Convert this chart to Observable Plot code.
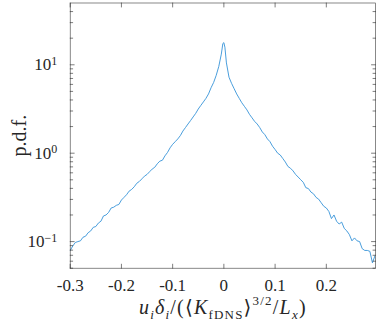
<!DOCTYPE html>
<html><head><meta charset="utf-8">
<script src="https://cdn.jsdelivr.net/npm/d3@7"></script>
<script src="https://cdn.jsdelivr.net/npm/@observablehq/plot@0.6"></script>
<style>
html,body{margin:0;padding:0;background:#fff;}
#chart svg, #chart svg text, #chart svg tspan {font-family: "Liberation Serif", "DejaVu Serif", serif !important;}
</style>
</head><body><div id="chart"></div>
<script>
const xValues = [
 -0.300,-0.295,-0.290,-0.285,-0.280,-0.275,-0.270,-0.265,-0.260,-0.255,
 -0.250,-0.245,-0.240,-0.235,-0.230,-0.225,-0.220,-0.215,-0.210,-0.205,
 -0.200,-0.195,-0.190,-0.185,-0.180,-0.175,-0.170,-0.165,-0.160,-0.155,
 -0.150,-0.145,-0.140,-0.135,-0.130,-0.125,-0.120,-0.115,-0.110,-0.105,
 -0.100,-0.095,-0.090,-0.085,-0.080,-0.075,-0.070,-0.065,-0.060,-0.055,
 -0.050,-0.045,-0.040,-0.035,-0.030,-0.025,-0.020,-0.015,-0.010,-0.005,
 -0.002,0.000,0.002,
 0.005,0.010,0.015,0.020,0.025,0.030,0.035,0.040,0.045,0.050,
 0.055,0.060,0.065,0.070,0.075,0.080,0.085,0.090,0.095,0.100,
 0.105,0.110,0.115,0.120,0.125,0.130,0.135,0.140,0.145,0.150,
 0.155,0.160,0.165,0.170,0.175,0.180,0.185,0.190,0.195,0.200,
 0.205,0.210,0.215,0.220,0.225,0.230,0.235,0.240,0.245,0.250,
 0.255,0.260,0.265,0.270,0.275,0.280,0.285,0.290,0.295
];
const pdfValues = [
 0.0794,0.0891,0.0977,0.100,0.102,0.112,0.115,0.126,0.132,0.145,
 0.148,0.162,0.170,0.195,0.200,0.214,0.240,0.245,0.257,0.263,
 0.295,0.316,0.339,0.372,0.389,0.417,0.457,0.479,0.513,0.550,
 0.575,0.617,0.661,0.692,0.759,0.813,0.832,0.933,1.02,1.15,
 1.26,1.35,1.45,1.58,1.78,1.95,2.14,2.34,2.57,2.82,
 3.16,3.47,3.80,4.17,4.68,5.50,6.31,7.59,9.55,13.2,
 17.4,17.8,15.8,
 10.5,7.24,6.17,5.37,4.68,4.17,3.72,3.39,3.09,2.75,
 2.51,2.29,2.14,1.95,1.74,1.62,1.45,1.35,1.20,1.10,
 1.00,0.955,0.871,0.794,0.708,0.676,0.631,0.575,0.537,0.501,
 0.468,0.407,0.398,0.363,0.347,0.316,0.302,0.275,0.251,0.240,
 0.219,0.182,0.200,0.170,0.158,0.166,0.141,0.132,0.120,0.102,
 0.110,0.102,0.100,0.0832,0.0794,0.0794,0.0776,0.0575,0.0692
];
const xTicks = [-0.3,-0.2,-0.1,0,0.1,0.2];
const xTickLabels = ["-0.3","-0.2","-0.1","0","0.1","0.2"];
const yMajorTicks = [0.1,1,10];
const yTickExponents = ["\u22121","0","1"];
const yMinorTicks = [0.05,0.06,0.07,0.08,0.09,0.2,0.3,0.4,0.5,0.6,0.7,0.8,0.9,2,3,4,5,6,7,8,9,20,30,40];
const xLabelParts = [
  {t:"u", it:true},{t:"i", it:true, sub:true},{t:"δ", it:true},{t:"i", it:true, sub:true},
  {t:"/(⟨"},{t:"K", it:true},{t:"fDNS", sub:true},{t:"⟩"},{t:"3/2", sup:true},
  {t:"/"},{t:"L", it:true},{t:"x", it:true, sub:true},{t:")"}
];
const yLabel = "p.d.f.";

const axisColor = "#262626";
const lineColor = "#3593d8";
const data = xValues.map((x,i)=>({x, pdf: pdfValues[i]}));
const tickShape = {draw(ctx, l){ ctx.moveTo(0,0); ctx.lineTo(0,-l); }};
const tick = (vals, ch, anchor, rot, len) => Plot.vector(vals, {
  [ch]: d=>d, frameAnchor: anchor, rotate: rot, length: len, anchor: "start",
  shape: tickShape, stroke: axisColor, strokeWidth: 0.6
});

const chart = Plot.plot({
  width: 379, height: 324,
  marginLeft: 69.7, marginRight: 4, marginTop: 2.5, marginBottom: 56.3,
  style: {fontFamily: "Liberation Serif", fontSize: "17px", color: axisColor, background: "#fff", overflow: "visible"},
  x: {domain: [-0.3, 0.296]},
  y: {type: "log", domain: [0.05, 50]},
  marks: [
    Plot.line(data, {x: "x", y: "pdf", stroke: lineColor, strokeWidth: 0.9, clip: true}),
    Plot.frame({stroke: "#3a3a3a", strokeWidth: 0.6}),
    tick(xTicks, "x", "bottom", 0, 4),
    tick(xTicks, "x", "top", 180, 4),
    tick(yMajorTicks, "y", "left", 90, 4),
    tick(yMajorTicks, "y", "right", -90, 4),
    tick(yMinorTicks, "y", "left", 90, 2.5),
    tick(yMinorTicks, "y", "right", -90, 2.5),
    Plot.axisX({anchor: "bottom", ticks: xTicks, tickSize: 0, tickPadding: 11,
      tickFormat: d => xTickLabels[xTicks.indexOf(d)], label: "XLABEL", labelAnchor: "center", labelOffset: 46}),
    Plot.axisY({anchor: "left", ticks: yMajorTicks, tickSize: 0, tickPadding: 13,
      tickFormat: d => "10|" + yTickExponents[yMajorTicks.indexOf(d)], label: yLabel, labelAnchor: "center", labelOffset: 58})
  ]
});
document.getElementById("chart").appendChild(chart);

const svg = d3.select(chart);
svg.selectAll('g[aria-label="y-axis tick label"] text').each(function(){
  const s = d3.select(this).text();
  const [base, exp] = s.split("|");
  const t = d3.select(this).text(null);
  t.append("tspan").text(base);
  t.append("tspan").attr("dy", "-0.45em").attr("font-size", "12px").text(exp);
});
svg.selectAll('g[aria-label="y-axis label"] text').text(yLabel).attr("font-size", "20px");
svg.selectAll('g[aria-label="x-axis label"] text').each(function(){
  const fs = 20;
  const t = d3.select(this).text(null).attr("font-size", fs + "px").attr("letter-spacing", "1.2px");
  let shift = 0;
  for (const p of xLabelParts) {
    const target = p.sub ? 0.26 : p.sup ? -0.45 : 0;
    const sp = t.append("tspan").text(p.t);
    if (p.it) sp.attr("font-style", "italic");
    if (p.sub || p.sup) sp.attr("font-size", "13px");
    const dyPx = (target - shift) * fs;
    if (dyPx !== 0) sp.attr("dy", dyPx + "px");
    shift = target;
  }
});
</script></body></html>
